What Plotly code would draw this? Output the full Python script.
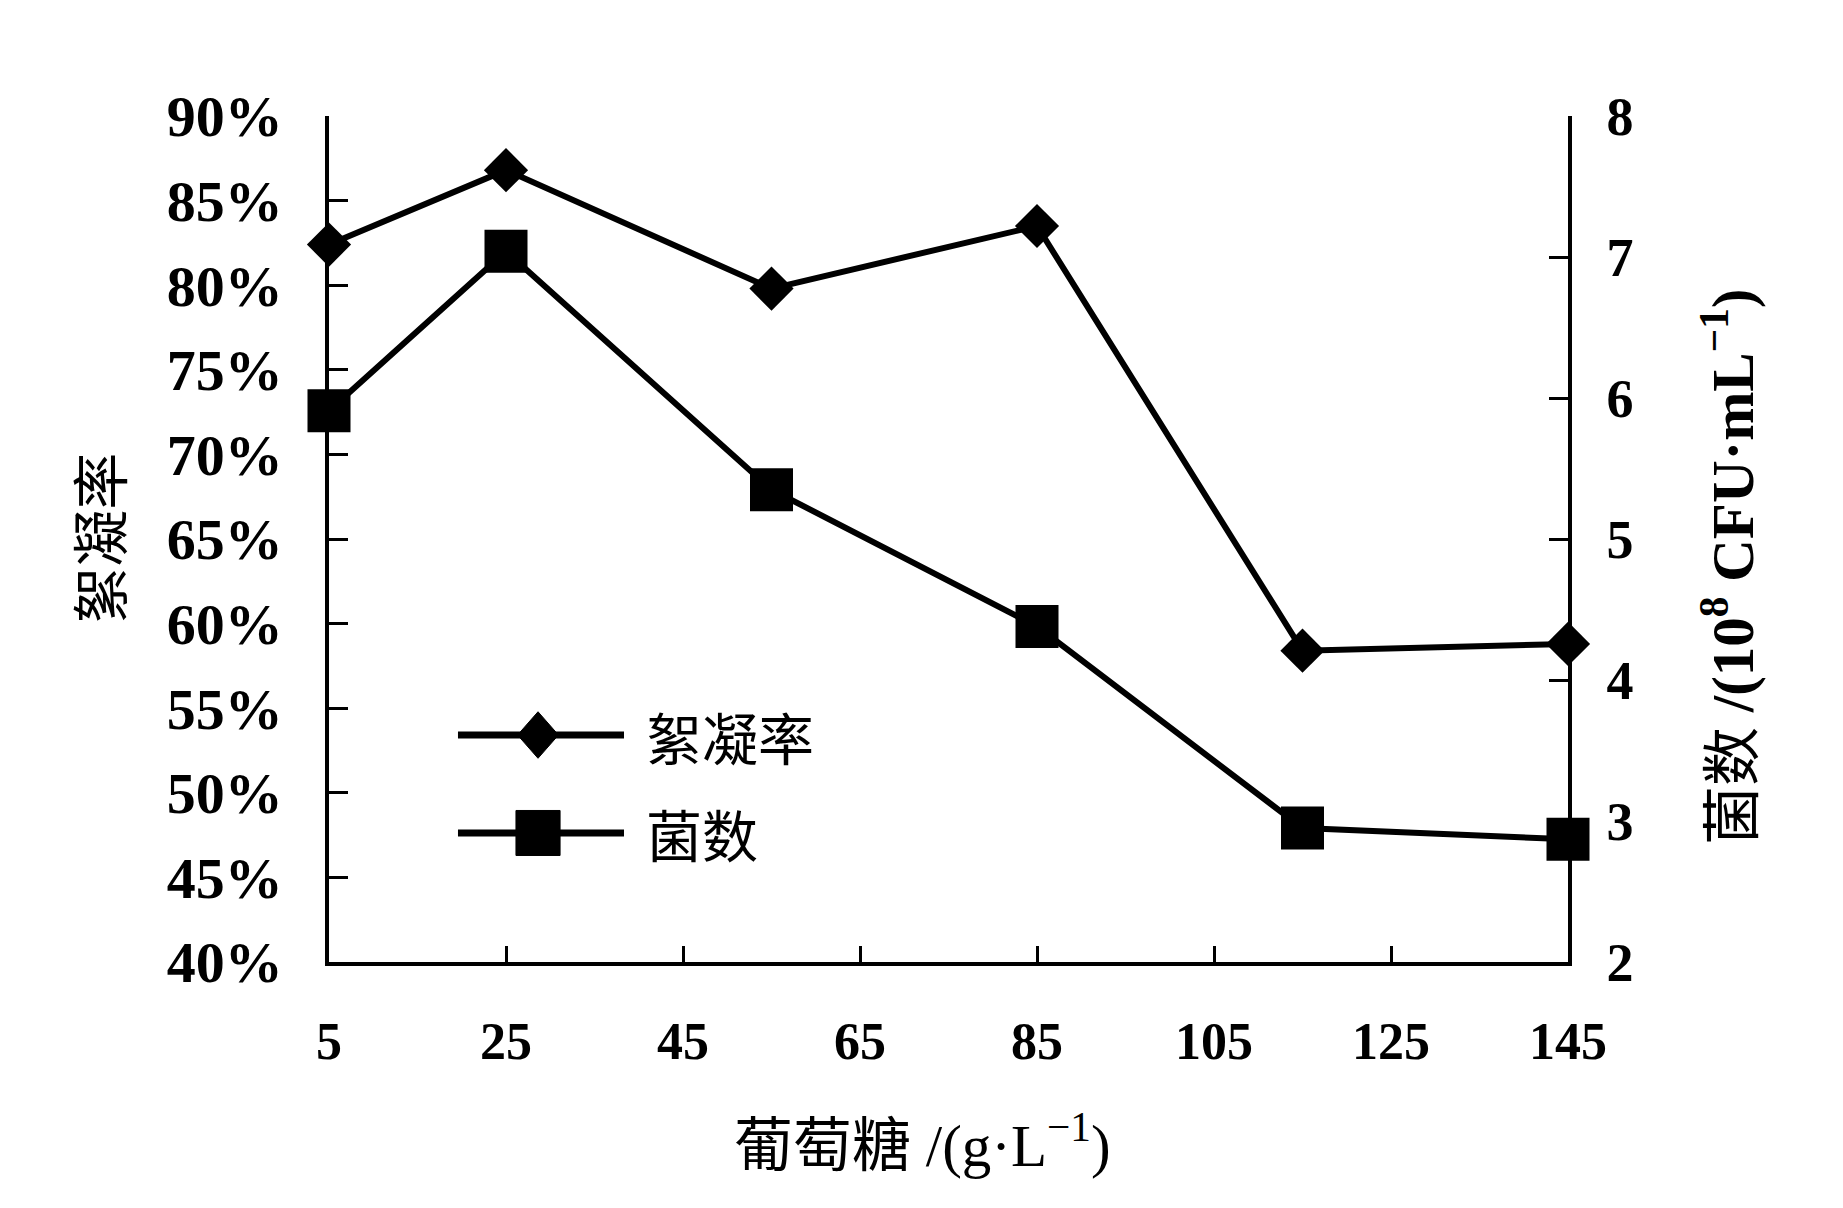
import plotly.graph_objects as go

# ---- data ----
glucose = [5, 25, 55, 85, 115, 145]
floc_rate = [0.824, 0.868, 0.798, 0.835, 0.584, 0.588]
bacteria = [5.91, 7.04, 5.35, 4.38, 2.95, 2.87]
x_ticks = [5, 25, 45, 65, 85, 105, 125, 145]
name_floc = "絮凝率"
name_bact = "菌数"

SERIF = "Liberation Serif, Noto Sans CJK SC"
CJK = "Noto Sans CJK SC, Liberation Serif"

fig = go.Figure()
fig.add_trace(go.Scatter(
    x=glucose, y=floc_rate, name=name_floc, mode="lines+markers",
    line=dict(color="black", width=6),
    marker=dict(symbol="diamond", size=34, color="black"),
    cliponaxis=False, showlegend=False))
fig.add_trace(go.Scatter(
    x=glucose, y=bacteria, name=name_bact, mode="lines+markers", yaxis="y2",
    line=dict(color="black", width=6),
    marker=dict(symbol="square", size=43, color="black"),
    cliponaxis=False, showlegend=False))

# ---- custom legend (shapes + text in paper coords) ----
lx0, lx1, lxm, ltx = 0.1041, 0.2381, 0.1687, 0.2542
rows = [(0.2683, "diamond", name_floc), (0.1525, "square", name_bact)]
shapes = []
annotations = []
for yy, sym, label in rows:
    shapes.append(dict(type="line", xref="paper", yref="paper", x0=lx0, x1=lx1, y0=yy, y1=yy,
                       line=dict(color="black", width=7)))
    if sym == "diamond":
        hw, hh = 0.0165, 0.0275
        path = f"M {lxm-hw},{yy} L {lxm},{yy+hh} L {lxm+hw},{yy} L {lxm},{yy-hh} Z"
        shapes.append(dict(type="path", xref="paper", yref="paper", path=path,
                           fillcolor="black", line=dict(color="black", width=1)))
    else:
        hw, hh = 0.0178, 0.0266
        shapes.append(dict(type="rect", xref="paper", yref="paper", x0=lxm-hw, x1=lxm+hw,
                           y0=yy-hh, y1=yy+hh, fillcolor="black", line=dict(color="black", width=1)))
    annotations.append(dict(xref="paper", yref="paper", x=ltx, y=yy, text=label, showarrow=False,
                            xanchor="left", yanchor="middle", font=dict(family=CJK, size=56, color="black")))

# ---- axis titles ----
annotations.append(dict(xref="paper", yref="paper", x=-0.1875, y=0.501, text="絮凝率", textangle=-90,
                        showarrow=False, xanchor="center", yanchor="middle",
                        font=dict(family=CJK, size=57, color="black")))
annotations.append(dict(xref="paper", yref="paper", x=1.130, y=0.467,
                        text="菌数 <b>/(10<sup>8</sup> CFU·mL<sup>−1</sup>)</b>", textangle=-90,
                        showarrow=False, xanchor="center", yanchor="middle",
                        font=dict(family=SERIF, size=59, color="black")))
annotations.append(dict(xref="paper", yref="paper", x=0.4794, y=-0.2125,
                        text="葡萄糖 /(g·L<sup>−1</sup>)",
                        showarrow=False, xanchor="center", yanchor="middle",
                        font=dict(family=SERIF, size=59, color="black")))

fig.update_layout(
    width=1843, height=1208,
    margin=dict(l=329, r=275, t=116, b=246),
    paper_bgcolor="white", plot_bgcolor="white",
    shapes=shapes, annotations=annotations,
    xaxis=dict(range=[5, 145], tickvals=x_ticks, ticktext=[str(v) for v in x_ticks],
               ticks="inside", ticklen=16, tickwidth=2.5, tickcolor="black",
               showline=True, linecolor="black", linewidth=3.5, mirror=False,
               showgrid=False, zeroline=False, ticklabelstandoff=31,
               tickfont=dict(family="Liberation Serif", size=52, color="black", weight="bold")),
    yaxis=dict(range=[0.40, 0.90], dtick=0.05, tick0=0.40, tickformat=".0%",
               ticks="inside", ticklen=19, tickwidth=2.5, tickcolor="black",
               showline=True, linecolor="black", linewidth=3.5,
               showgrid=False, zeroline=False, ticklabelstandoff=31,
               tickfont=dict(family="Liberation Serif", size=58, color="black", weight="bold")),
    yaxis2=dict(range=[2, 8], dtick=1, overlaying="y", side="right",
                ticks="inside", ticklen=19, tickwidth=2.5, tickcolor="black",
                showline=True, linecolor="black", linewidth=3.5,
                showgrid=False, zeroline=False, ticklabelstandoff=24,
                tickfont=dict(family="Liberation Serif", size=54, color="black", weight="bold")),
)

fig.write_html("out.html")
